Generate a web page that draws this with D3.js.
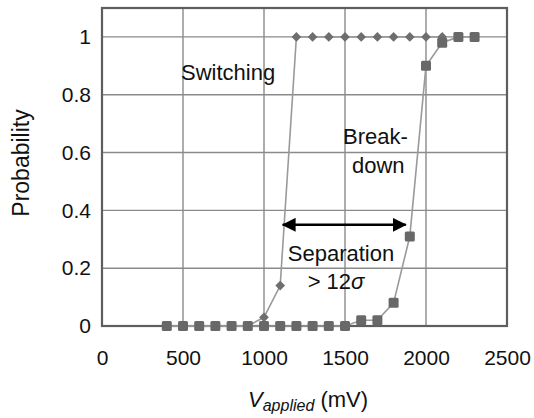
<!DOCTYPE html>
<html>
<head>
<meta charset="utf-8">
<script src="https://cdn.jsdelivr.net/npm/d3@7"></script>
<style>
  body { margin: 0; background: #fff; }
  svg { display: block; font-family: "Liberation Sans", Arial, sans-serif; }
</style>
</head>
<body>
<svg id="chart" width="534" height="418"></svg>
<script>
// values (mV, probability)
const switchV = [400, 500, 600, 700, 800, 900, 1000, 1100, 1200, 1300, 1400, 1500, 1600, 1700, 1800, 1900, 2000, 2100];
const switchP = [0, 0, 0, 0, 0, 0, 0.03, 0.14, 1, 1, 1, 1, 1, 1, 1, 1, 1, 1];
const breakV = [400, 500, 600, 700, 800, 900, 1000, 1100, 1200, 1300, 1400, 1500, 1600, 1700, 1800, 1900, 2000, 2100, 2200, 2300];
const breakP = [0, 0, 0, 0, 0, 0, 0, 0, 0, 0, 0, 0, 0.02, 0.02, 0.08, 0.31, 0.9, 0.98, 1, 1];
const xTicks = [0, 500, 1000, 1500, 2000, 2500];
const yTicks = [0, 0.2, 0.4, 0.6, 0.8, 1];
const yTickLabels = ["0", "0.2", "0.4", "0.6", "0.8", "1"];
const separation = [1115, 1875]; // arrow ends, at p = 0.35

const svg = d3.select("#chart");
const x = d3.scaleLinear().domain([0, 2500]).range([102, 507]);
const y = d3.scaleLinear().domain([0, 1.1]).range([326, 8]);

// grid
svg.append("g")
  .selectAll("line.vx")
  .data(xTicks.slice(1, -1))
  .enter().append("line")
  .attr("x1", d => x(d)).attr("x2", d => x(d))
  .attr("y1", y(0)).attr("y2", y(1.1))
  .attr("stroke", "#8a8a8a").attr("stroke-width", 1.4);
svg.append("g")
  .selectAll("line.hy")
  .data(yTicks.slice(1))
  .enter().append("line")
  .attr("x1", x(0)).attr("x2", x(2500))
  .attr("y1", d => y(d)).attr("y2", d => y(d))
  .attr("stroke", "#8a8a8a").attr("stroke-width", 1.4);

// frame
svg.append("rect")
  .attr("x", x(0)).attr("y", y(1.1))
  .attr("width", x(2500) - x(0)).attr("height", y(0) - y(1.1))
  .attr("fill", "none").attr("stroke", "#5e5e5e").attr("stroke-width", 2.2);

// axes (labels only)
const xAxis = svg.append("g")
  .attr("transform", `translate(0,${y(0)})`)
  .call(d3.axisBottom(x).tickValues(xTicks).tickSize(0).tickPadding(24.5).tickFormat(d3.format("d")));
const yAxis = svg.append("g")
  .attr("transform", `translate(${x(0)},0)`)
  .call(d3.axisLeft(y).tickValues(yTicks).tickSize(0).tickPadding(11).tickFormat((d, i) => yTickLabels[i]));
[xAxis, yAxis].forEach(a => {
  a.select(".domain").remove();
  a.selectAll("text").attr("font-size", 21).attr("fill", "#111").attr("font-family", null);
});

// curves
const line = d3.line();
const switchPts = switchV.map((v, i) => [x(v), y(switchP[i])]);
const breakPts = breakV.map((v, i) => [x(v), y(breakP[i])]);

svg.append("path").attr("d", line(switchPts))
  .attr("fill", "none").attr("stroke", "#9a9a9a").attr("stroke-width", 1.6);
svg.append("g").selectAll("path")
  .data(switchPts)
  .enter().append("path")
  .attr("d", d3.symbol(d3.symbolDiamond2, 60))
  .attr("transform", d => `translate(${d[0]},${d[1]})`)
  .attr("fill", "#6e6e6e");

svg.append("path").attr("d", line(breakPts))
  .attr("fill", "none").attr("stroke", "#9a9a9a").attr("stroke-width", 1.6);
svg.append("g").selectAll("rect")
  .data(breakPts)
  .enter().append("rect")
  .attr("x", d => d[0] - 5).attr("y", d => d[1] - 5)
  .attr("width", 10).attr("height", 10).attr("rx", 1.5)
  .attr("fill", "#686868");

// separation arrow
const defs = svg.append("defs");
defs.append("marker")
  .attr("id", "head")
  .attr("viewBox", "0 0 14 14")
  .attr("refX", 13).attr("refY", 7)
  .attr("markerWidth", 14).attr("markerHeight", 14)
  .attr("markerUnits", "userSpaceOnUse")
  .attr("orient", "auto-start-reverse")
  .append("path").attr("d", "M0,0L14,7L0,14Z").attr("fill", "#000");
svg.append("line")
  .attr("x1", x(separation[0])).attr("x2", x(separation[1]))
  .attr("y1", y(0.35)).attr("y2", y(0.35))
  .attr("stroke", "#000").attr("stroke-width", 2.4)
  .attr("marker-start", "url(#head)").attr("marker-end", "url(#head)");

// annotations
const note = (tx, ty, str, anchor) => svg.append("text")
  .attr("x", tx).attr("y", ty).attr("font-size", 22)
  .attr("text-anchor", anchor || "start").attr("fill", "#111").text(str);
note(181, 80, "Switching");
note(343, 144, "Break-");
note(352, 173, "down");
note(341, 261, "Separation", "middle");
const sig = note(336, 289, "> 12", "middle");
sig.append("tspan").attr("font-style", "italic").text("σ");

// axis titles
svg.append("text")
  .attr("transform", "translate(29,163) rotate(-90)")
  .attr("text-anchor", "middle").attr("font-size", 23).attr("fill", "#111")
  .text("Probability");
const xt = svg.append("text")
  .attr("x", 248).attr("y", 407).attr("font-size", 22).attr("fill", "#111");
xt.append("tspan").attr("font-style", "italic").text("V");
xt.append("tspan").attr("font-style", "italic").attr("font-size", 16).attr("dy", 4).text("applied");
xt.append("tspan").attr("dy", -4).text(" (mV)");
</script>
</body>
</html>
